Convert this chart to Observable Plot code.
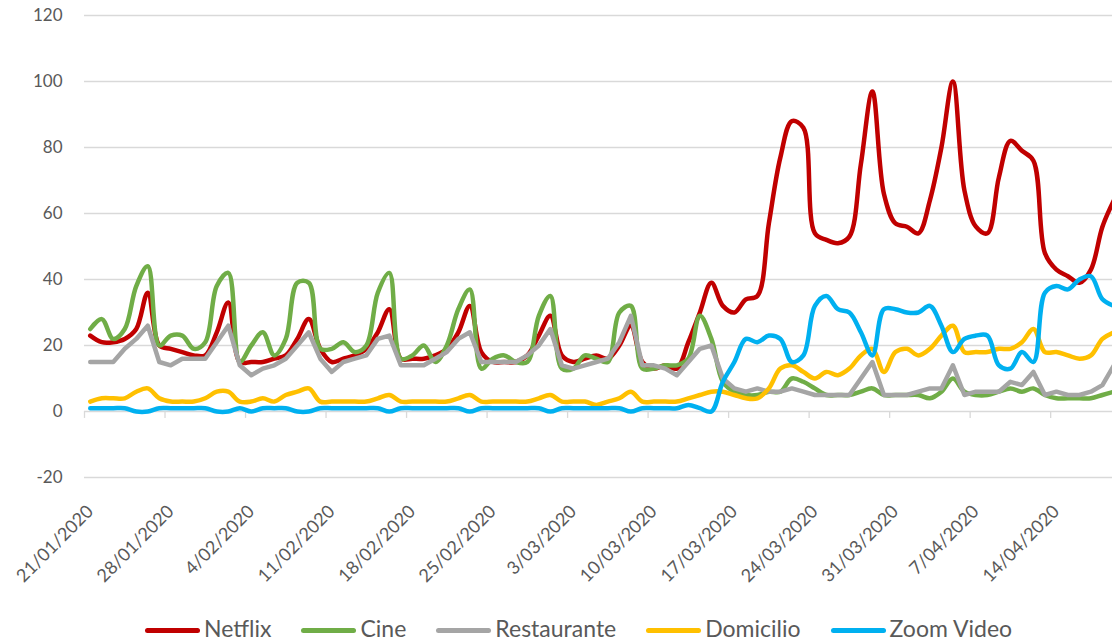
<!DOCTYPE html>
<html><head><meta charset="utf-8">
<script src="https://cdn.jsdelivr.net/npm/d3@7"></script>
<script src="https://cdn.jsdelivr.net/npm/@observablehq/plot@0.6"></script>
<style>
body{margin:0;background:#fff;font-family:Lato,sans-serif;}
#wrap{position:relative;width:1112px;height:641px;overflow:hidden;background:#fff;}
#legend{position:absolute;left:145px;top:614px;display:flex;align-items:center;font-size:23px;color:#595959;line-height:28px;white-space:nowrap;font-family:Lato,sans-serif;}
.item{display:flex;align-items:center;margin-right:30px;}
.sw{width:55px;height:5px;border-radius:3px;margin-right:4px;position:relative;top:2px;}
</style></head><body><div id="wrap"><div id="chart"></div><div id="legend"></div></div>
<script>
// Daily series starting 21/01/2020
const seriesNames = ["Netflix", "Cine", "Restaurante", "Domicilio", "Zoom Video"];
const seriesColors = ["#C00000", "#70AD47", "#A5A5A5", "#FFC000", "#00B0F0"];

const netflix = [23,21,21,22,25,36,20,19,18,17,17,24,33,15,15,15,16,17,22,28,19,15,16,17,19,24,31,16,16,16,17,19,24,32,18,15,15,15,17,23,29,17,15,16,17,16,20,26,15,13,14,13,21,30,39,32,30,34,35,57,77,88,86,54,52,51,53,75,97,66,57,56,54,64,80,100,67,56,54,71,82,79,76,48,43,41,39,43,56,64];
const cine = [25,28,22,25,38,44,20,23,23,19,21,38,42,15,20,24,17,22,39,39,19,19,21,18,20,36,42,16,17,20,15,20,31,37,13,16,17,15,15,29,35,13,13,17,16,15,30,32,13,13,14,14,16,29,22,9,6,5,5,6,6,10,9,7,5,5,5,6,7,5,5,5,5,4,6,10,6,5,5,6,7,6,7,5,4,4,4,4,5,6];
const restaurante = [15,15,15,19,22,26,15,14,16,16,16,21,26,14,11,13,14,16,20,24,16,12,15,16,17,22,23,14,14,14,16,18,22,24,15,15,15,15,17,20,25,14,13,14,15,16,21,29,14,14,13,11,15,19,20,10,7,6,7,6,6,7,6,5,5,5,5,10,15,5,5,5,6,7,7,14,5,6,6,6,9,8,12,5,6,5,5,6,8,14];
const domicilio = [3,4,4,4,6,7,4,3,3,3,4,6,6,3,3,4,3,5,6,7,3,3,3,3,3,4,5,3,3,3,3,3,4,5,3,3,3,3,3,4,5,3,3,3,2,3,4,6,3,3,3,3,4,5,6,6,5,4,4,7,13,14,12,10,12,11,13,17,19,12,18,19,17,19,23,26,18,18,18,19,19,21,25,18,18,17,16,17,22,24];
const zoomVideo = [1,1,1,1,0,0,1,1,1,1,1,0,0,1,0,1,1,1,0,0,1,1,1,1,1,1,0,1,1,1,1,1,1,0,1,1,1,1,1,1,0,1,1,1,1,1,1,0,1,1,1,1,2,1,0,9,15,22,21,23,22,15,17,32,35,31,30,24,17,31,31,30,30,32,26,18,22,23,23,14,13,18,15,36,38,37,40,41,34,32];

const yTicks = [-20, 0, 20, 40, 60, 80, 100, 120];
const tickLabels = ["21/01/2020","28/01/2020","4/02/2020","11/02/2020","18/02/2020","25/02/2020","3/03/2020","10/03/2020","17/03/2020","24/03/2020","31/03/2020","7/04/2020","14/04/2020"];

const seriesValues = [netflix, cine, restaurante, domicilio, zoomVideo];

function parseLabel(s, hour) {
  const [d, m, y] = s.split("/").map(Number);
  return new Date(Date.UTC(y, m - 1, d, hour));
}
function fmt(d) {
  return `${d.getUTCDate()}/${String(d.getUTCMonth() + 1).padStart(2, "0")}/${d.getUTCFullYear()}`;
}
const tickDates = tickLabels.map(s => parseLabel(s, 0));
const labelDates = tickLabels.map(s => parseLabel(s, 12));

const rows = [];
seriesNames.forEach((name, k) => {
  seriesValues[k].forEach((v, i) => {
    rows.push({series: name, date: new Date(Date.UTC(2020, 0, 21 + i, 12)), value: v});
  });
});

const lineMarks = seriesNames.map((name, k) =>
  Plot.line(rows.filter(r => r.series === name), {
    x: "date", y: "value",
    stroke: seriesColors[k], strokeWidth: 4.5,
    strokeLinecap: "round", strokeLinejoin: "round",
    curve: name === "Restaurante" ? "linear" : "catmull-rom",
    clip: true
  })
);

const chart = Plot.plot({
  width: 1112, height: 600,
  marginLeft: 84, marginRight: 0, marginTop: 15, marginBottom: 123,
  x: {type: "utc", domain: [new Date(Date.UTC(2020, 0, 21)), new Date(Date.UTC(2020, 3, 19, 9))]},
  y: {domain: [-20, 120]},
  style: {fontFamily: "Lato, sans-serif", background: "white", overflow: "visible"},
  marks: [
    Plot.gridY(yTicks, {stroke: "#d9d9d9", strokeOpacity: 1, strokeWidth: 1.3}),
    Plot.ruleX(tickDates, {x: d => d, y1: 0, y2: -2.1, stroke: "#d9d9d9", strokeWidth: 1.3}),
    Plot.axisY(yTicks, {tickSize: 0, tickPadding: 22, fontSize: 17, fill: "#595959", label: null, tickFormat: d => String(d), style: {letterSpacing: "1px"}}),
    Plot.axisX(labelDates, {tickSize: 0, tickPadding: 31, tickRotate: -45, fontSize: 18, fill: "#595959", label: null, tickFormat: d => fmt(d)}),
    ...lineMarks
  ]
});
document.getElementById("chart").appendChild(chart);

const legend = document.getElementById("legend");
seriesNames.forEach((name, k) => {
  const item = document.createElement("div");
  item.className = "item";
  const sw = document.createElement("span");
  sw.className = "sw";
  sw.style.background = seriesColors[k];
  const tx = document.createElement("span");
  tx.textContent = name;
  item.appendChild(sw);
  item.appendChild(tx);
  legend.appendChild(item);
});
</script></body></html>
